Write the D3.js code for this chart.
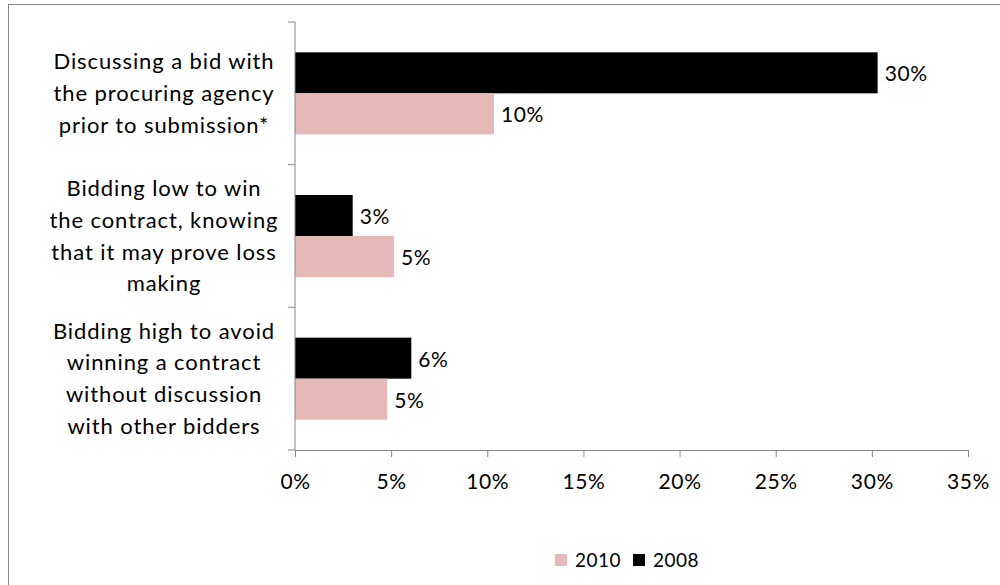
<!DOCTYPE html>
<html>
<head>
<meta charset="utf-8">
<script src="https://cdn.jsdelivr.net/npm/d3@7"></script>
<style>
  html, body { margin: 0; padding: 0; background: #fff; }
  svg { display: block; font-family: Lato, "Open Sans", sans-serif; }
</style>
</head>
<body>
<svg id="chart" width="1000" height="585"></svg>
<script>
// Survey categories (top to bottom), one line per wrapped label row
const categories = [
  "Discussing a bid with|the procuring agency|prior to submission*",
  "Bidding low to win|the contract, knowing|that it may prove loss|making",
  "Bidding high to avoid|winning a contract|without discussion|with other bidders"
];
const series = ["2008", "2010"];
const values2008 = [0.303, 0.030, 0.0605];
const values2010 = [0.1035, 0.0515, 0.048];
const xTicks = [0, 0.05, 0.10, 0.15, 0.20, 0.25, 0.30, 0.35];
const legendOrder = ["2010", "2008"];
const colors = { "2008": "#000000", "2010": "#e6b9b8" };

const svg = d3.select("#chart");

// outer chart frame
svg.append("rect")
  .attr("x", 8.5).attr("y", 4.5)
  .attr("width", 1200).attr("height", 1200)
  .attr("fill", "none").attr("stroke", "#868686").attr("stroke-width", 1);

const plot = { left: 295, right: 968, top: 22, bottom: 450 };

const x = d3.scaleLinear().domain([0, 0.35]).range([plot.left, plot.right]);
const y0 = d3.scaleBand().domain(categories).range([plot.top, plot.bottom]);
const bw = y0.bandwidth();
const y1 = d3.scaleBand().domain(series).range([bw * 0.2125, bw * 0.7875]);

const rows = categories.map((c, i) => ({
  cat: c,
  bars: [
    { s: "2008", v: values2008[i] },
    { s: "2010", v: values2010[i] }
  ]
}));

const fmt = d3.format(".0%");

const groups = svg.append("g").selectAll("g")
  .data(rows).join("g")
  .attr("transform", d => `translate(0,${y0(d.cat)})`);

groups.selectAll("rect")
  .data(d => d.bars).join("rect")
  .attr("x", x(0))
  .attr("y", d => y1(d.s))
  .attr("width", d => x(d.v) - x(0))
  .attr("height", y1.bandwidth())
  .attr("fill", d => colors[d.s]);

groups.selectAll("text.val")
  .data(d => d.bars).join("text")
  .attr("class", "val")
  .attr("x", d => x(d.v) + 7)
  .attr("y", d => y1(d.s) + y1.bandwidth() / 2 + 1)
  .attr("dy", "0.35em")
  .attr("font-size", 21)
  .attr("letter-spacing", 0.6)
  .attr("fill", "#000")
  .text(d => fmt(d.v));

// x axis
const xAxis = d3.axisBottom(x).tickValues(xTicks).tickFormat(fmt)
  .tickSize(7).tickSizeOuter(7);
const gx = svg.append("g")
  .attr("transform", `translate(0,${plot.bottom})`)
  .call(xAxis);
gx.select(".domain").attr("stroke", "#868686");
gx.selectAll(".tick line").attr("stroke", "#868686");
gx.selectAll(".tick text")
  .attr("font-family", "Lato, sans-serif")
  .attr("font-size", 21).attr("letter-spacing", 0.6)
  .attr("fill", "#000").attr("y", 24).attr("dy", "0.71em");

// y axis with category boundary ticks
const boundaries = [plot.top].concat(categories.map(c => y0(c) + bw));
const gy = svg.append("g");
gy.append("line")
  .attr("x1", x(0)).attr("x2", x(0))
  .attr("y1", plot.top).attr("y2", plot.bottom)
  .attr("stroke", "#868686");
gy.selectAll("line.tk")
  .data(boundaries).join("line")
  .attr("class", "tk")
  .attr("x1", x(0) - 7).attr("x2", x(0))
  .attr("y1", d => d).attr("y2", d => d)
  .attr("stroke", "#868686");

// wrapped category labels
const lineH = 31.8;
svg.append("g").selectAll("text")
  .data(categories).join("text")
  .attr("text-anchor", "middle")
  .attr("font-size", 22)
  .attr("letter-spacing", 0.9)
  .attr("fill", "#000")
  .each(function(c) {
    const lines = c.split("|");
    const cy = y0(c) + bw / 2;
    const start = cy - (lines.length - 1) * lineH / 2;
    d3.select(this).selectAll("tspan")
      .data(lines).join("tspan")
      .attr("x", 164)
      .attr("y", (l, i) => start + i * lineH)
      .attr("dy", "0.35em")
      .text(l => l);
  });

// legend
const legend = svg.append("g").attr("transform", "translate(555,560)");
const item = legend.selectAll("g")
  .data(legendOrder).join("g")
  .attr("transform", (d, i) => `translate(${i * 78},0)`);
item.append("rect")
  .attr("x", 0).attr("y", -6).attr("width", 12).attr("height", 12)
  .attr("fill", d => colors[d]);
item.append("text")
  .attr("x", 20).attr("y", 0).attr("dy", "0.35em")
  .attr("font-size", 19).attr("letter-spacing", 0.5).attr("fill", "#000")
  .text(d => d);
</script>
</body>
</html>
